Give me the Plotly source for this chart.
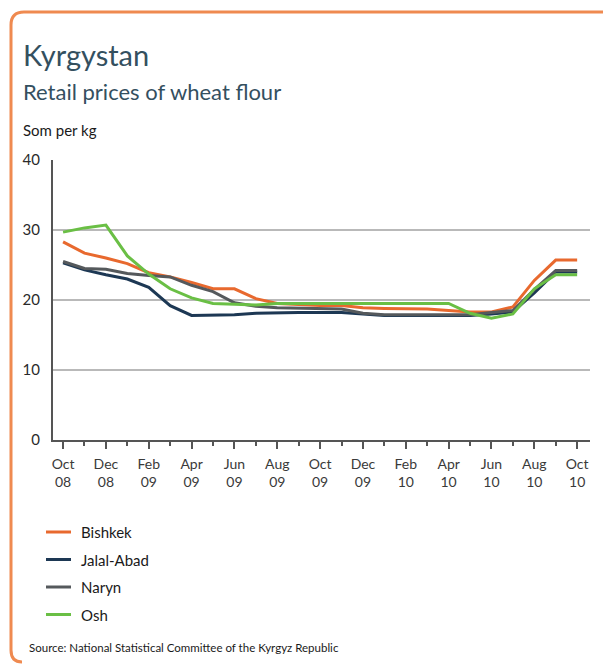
import plotly.graph_objects as go

# Monthly retail prices of wheat flour, Oct 2008 - Oct 2010 (som per kg)
months = ["Oct 08", "Nov 08", "Dec 08", "Jan 09", "Feb 09", "Mar 09", "Apr 09",
          "May 09", "Jun 09", "Jul 09", "Aug 09", "Sep 09", "Oct 09", "Nov 09",
          "Dec 09", "Jan 10", "Feb 10", "Mar 10", "Apr 10", "May 10", "Jun 10",
          "Jul 10", "Aug 10", "Sep 10", "Oct 10"]

bishkek = [28.3, 26.7, 26.0, 25.2, 23.9, 23.3, 22.5, 21.6, 21.6, 20.2, 19.5, 19.3,
           19.2, 19.2, 18.9, 18.8, 18.8, 18.7, 18.5, 18.3, 18.3, 19.0, 22.8, 25.7, 25.7]
jalal_abad = [25.3, 24.3, 23.6, 23.0, 21.8, 19.2, 17.8, 17.8, 17.9, 18.1, 18.2, 18.2,
              18.2, 18.2, 18.0, 17.8, 17.8, 17.8, 17.8, 17.8, 18.0, 18.3, 21.0, 24.0, 24.0]
naryn = [25.5, 24.5, 24.4, 23.8, 23.5, 23.3, 22.1, 21.2, 19.6, 19.1, 18.9, 18.8,
         18.8, 18.7, 18.1, 17.9, 17.9, 17.9, 17.9, 17.9, 18.2, 18.5, 21.5, 24.2, 24.2]
osh = [29.7, 30.3, 30.7, 26.3, 23.7, 21.6, 20.3, 19.5, 19.4, 19.3, 19.5, 19.5,
       19.5, 19.5, 19.5, 19.5, 19.5, 19.5, 19.5, 18.1, 17.4, 18.0, 21.6, 23.6, 23.6]

series_names = ["Bishkek", "Jalal-Abad", "Naryn", "Osh"]
series_values = [bishkek, jalal_abad, naryn, osh]
series_colors = ["#e8692e", "#1d3854", "#55595c", "#6abf45"]

y_ticks = [0, 10, 20, 30, 40]
x_tick_idx = list(range(0, 25, 2))
x_tick_text = [m.replace(" ", "<br>") for m in months[::2]]

W, H = 603, 666
L, R, T, B = 53, 13, 160, 226
PW, PH = W - L - R, H - T - B


def px(x):
    return (x - L) / PW


def py(y):
    return (H - B - y) / PH


FONT = "Lato, 'Open Sans', sans-serif"
TXT = "#1a1a1a"

fig = go.Figure()
x_idx = list(range(len(months)))
for name, vals, col in zip(series_names, series_values, series_colors):
    fig.add_trace(go.Scatter(
        x=x_idx, y=vals, mode="lines", name=name,
        line=dict(color=col, width=3), showlegend=False,
        hovertext=months, hovertemplate="%{hovertext}: %{y} som/kg<extra>" + name + "</extra>",
    ))

fig.update_layout(
    width=W, height=H,
    margin=dict(l=L, r=R, t=T, b=B, pad=0),
    paper_bgcolor="white", plot_bgcolor="white",
    font=dict(family=FONT, color=TXT),
    xaxis=dict(
        range=[-0.47, 24.6], tickmode="array", tickvals=x_tick_idx, ticktext=x_tick_text,
        ticks="outside", ticklen=7, tickwidth=2, tickcolor="#555555",
        minor=dict(tickmode="array", tickvals=list(range(1, 25, 2)), ticks="outside",
                   ticklen=4, tickwidth=2, tickcolor="#555555"),
        showgrid=False, zeroline=False, showline=True, linecolor="#555555", linewidth=2,
        tickfont=dict(size=14, color="#3a3a3a"), ticklabelstandoff=3, fixedrange=True,
    ),
    yaxis=dict(
        range=[0, 40], tickmode="array", tickvals=y_ticks, ticks="",
        showgrid=True, gridcolor="#b9b9b9", gridwidth=2, zeroline=False,
        showline=True, linecolor="#555555", linewidth=2,
        tickfont=dict(size=15, color="#2a2a2a"), ticklabelstandoff=8, fixedrange=True,
    ),
)

# Frame: orange rule along the top and left edges with rounded corners
frame = (f"M {px(605)},{py(12)} L {px(24)},{py(12)} Q {px(11)},{py(12)} {px(11)},{py(25)} "
         f"L {px(11)},{py(650)} Q {px(11)},{py(662)} {px(22)},{py(662)}")
fig.add_shape(type="path", path=frame, xref="paper", yref="paper",
              line=dict(color="#ef8a50", width=3), layer="below")

# Headings
fig.add_annotation(text="Kyrgystan", x=px(21), y=py(54), xref="paper", yref="paper",
                   xanchor="left", yanchor="middle", showarrow=False,
                   font=dict(size=29, color="#34505f", family=FONT))
fig.add_annotation(text="Retail prices of wheat flour", x=px(21), y=py(91), xref="paper",
                   yref="paper", xanchor="left", yanchor="middle", showarrow=False,
                   font=dict(size=22, color="#34505f", family=FONT))
fig.add_annotation(text="Som per kg", x=px(21), y=py(130), xref="paper", yref="paper",
                   xanchor="left", yanchor="middle", showarrow=False,
                   font=dict(size=15, color=TXT, family=FONT))

# Legend keys
for i, (name, col) in enumerate(zip(series_names, series_colors)):
    yk = 532 + i * 27.5
    fig.add_shape(type="line", x0=px(46), x1=px(71), y0=py(yk), y1=py(yk),
                  xref="paper", yref="paper", line=dict(color=col, width=3))
    fig.add_annotation(text=name, x=px(79), y=py(yk), xref="paper", yref="paper",
                       xanchor="left", yanchor="middle", showarrow=False,
                       font=dict(size=15, color=TXT, family=FONT))

fig.add_annotation(text="Source: National Statistical Committee of the Kyrgyz Republic",
                   x=px(27), y=py(647), xref="paper", yref="paper", xanchor="left",
                   yanchor="middle", showarrow=False,
                   font=dict(size=11.5, color=TXT, family=FONT))

fig.write_html("out.html")
